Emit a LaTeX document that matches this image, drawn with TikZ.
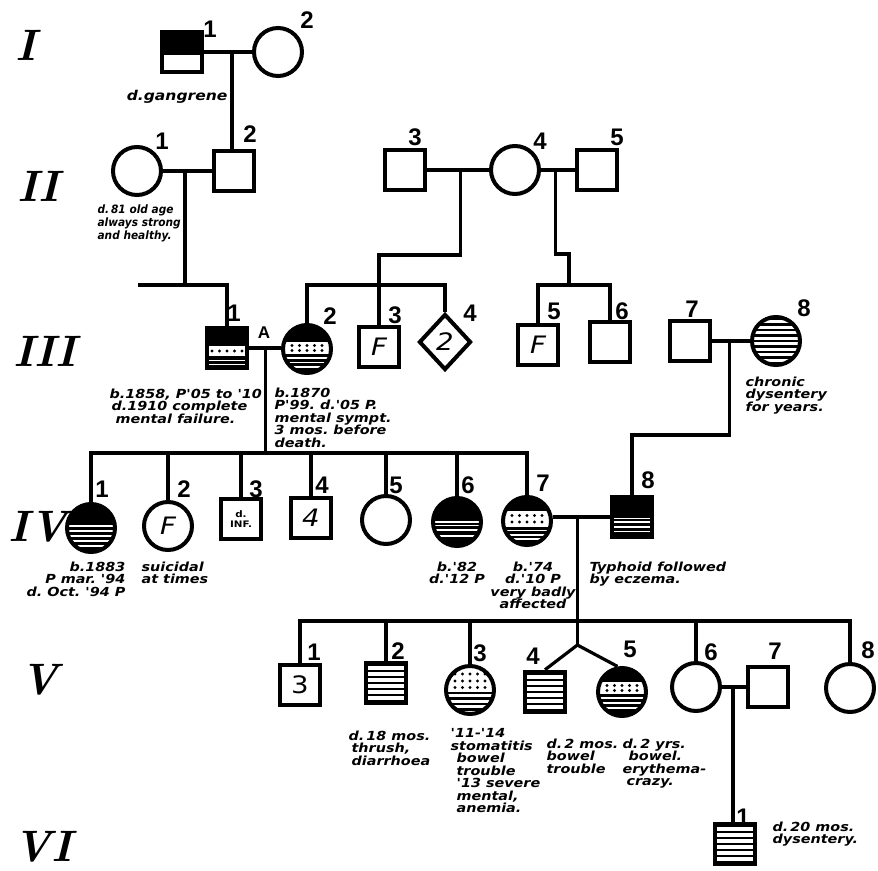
\documentclass[tikz,border=0pt]{standalone}
\usepackage{fontspec}
\usetikzlibrary{calc,shapes.geometric}
\newfontfamily\handfont[FakeStretch=1.15]{DejaVu Sans}
\newfontfamily\handnarrow[FakeStretch=0.92]{DejaVu Sans}
\newfontfamily\digitfont{Liberation Sans}
\newcommand\pb{path picture bounding box}
% fills inside the symbols, offsets from the centre (up is positive)
\newcommand\slab[3][black]{\fill[#1] ([xshift=-40pt,yshift=#2]\pb.center) rectangle ([xshift=40pt,yshift=#3]\pb.center);}
\newcommand\wlines[1]{\foreach \sy in {#1} {\slab[white]{\sy pt-0.9pt}{\sy pt+0.9pt}}}
\newcommand\stripes[1]{\foreach \sy in {#1} {\slab{\sy pt-1.3pt}{\sy pt+1.3pt}}}
\newcommand\dotrow[1]{\foreach \dx in {-15,-7.5,...,15} {\fill ([xshift=\dx pt,yshift=#1]\pb.center) circle (1.7pt);}}
\begin{document}
\begin{tikzpicture}[x=1pt,y=-1pt,line width=3.2pt,
  male/.style={draw,line width=4pt,minimum size=40.5pt,inner sep=0pt},
  female/.style={circle,draw,line width=4pt,minimum size=48pt,inner sep=0pt},
  unsexed/.style={diamond,draw,line width=4pt,minimum width=52pt,minimum height=56pt,inner sep=0pt},
  num/.style={font=\digitfont\bfseries\fontsize{24}{24}\selectfont,inner sep=0pt},
  gen/.style={font=\bfseries\itshape\fontsize{44}{44}\selectfont,inner sep=0pt},
  note/.style={font=\handfont\bfseries\itshape\fontsize{12.5}{12.5}\selectfont\frenchspacing,inner sep=0pt,align=left},
  letter/.style={font=\handfont\itshape\fontsize{24}{24}\selectfont}]
\useasboundingbox (0,0) rectangle (878,870);

% generations
\node[gen] (g1) at (26,45) {I};
\node[gen] (g2) at (38,186) {II};
\node[gen] (g3) at (45,351) {III};
\node[gen] (g4) at (38,527) {IV};
\node[gen] (g5) at (40,680) {V};
\node[gen] (g6) at (43,847) {VI};

% I
\node[male,path picture={\slab{-3pt}{30pt}}] (i1) at (182,52) {};
\node[female] (i2) at (278,52) {};
\node[num] (n-i1) at (210,29) {1};
\node[num] (n-i2) at (307,20) {2};
\node[note,anchor=east,font=\handfont\bfseries\itshape\fontsize{13.5}{13.5}\selectfont] (t-i1) at (229,97) {d.gangrene};

% II
\node[female] (ii1) at (137,171) {};
\node[male] (ii2) at (234,171) {};
\node[male] (ii3) at (405,170) {};
\node[female] (ii4) at (515,170) {};
\node[male] (ii5) at (597,170) {};
\node[num] (n-ii1) at (162,141) {1};
\node[num] (n-ii2) at (250,134) {2};
\node[num] (n-ii3) at (415,137) {3};
\node[num] (n-ii4) at (540,141) {4};
\node[num] (n-ii5) at (617,137) {5};
\node[note,anchor=north west,font=\handnarrow\bfseries\itshape\fontsize{11.5}{13}\selectfont\frenchspacing] (t-ii1) at (96,203) {d.\,81 old age\\always strong\\and healthy.};

% III
\node[male,path picture={\slab{-30pt}{30pt}\slab[white]{-8pt}{2pt}\dotrow{-3pt}\wlines{-12.5,-16.5}}] (iii1) at (227,348) {};
\node[female,path picture={\slab{-30pt}{30pt}\slab[white]{-5pt}{7pt}\dotrow{3.5pt}\dotrow{-1.5pt}\wlines{-9,-13.5,-18}}] (iii2) at (307,349) {};
\node[male,letter] (iii3) at (379,347) {F};
\node[unsexed,letter] (iii4) at (445,342) {2};
\node[male,letter] (iii5) at (538,345) {F};
\node[male] (iii6) at (610,342) {};
\node[male] (iii7) at (690,341) {};
\node[female,path picture={\stripes{-22,-16.5,...,22}}] (iii8) at (776,341) {};
\node[num] (n-iii1) at (234,313) {1};
\node[font=\digitfont\bfseries\fontsize{17}{17}\selectfont,inner sep=0pt] (a-iii1) at (264,333) {A};
\node[num] (n-iii2) at (330,316) {2};
\node[num] (n-iii3) at (395,315) {3};
\node[num] (n-iii4) at (470,313) {4};
\node[num] (n-iii5) at (554,311) {5};
\node[num] (n-iii6) at (622,311) {6};
\node[num] (n-iii7) at (692,309) {7};
\node[num] (n-iii8) at (804,308) {8};
\node[note,anchor=north west] (t-iii1) at (108,387) {b.1858, P'05 to '10\\\hspace*{2pt}d.1910 complete\\\hspace*{6pt}mental failure.};
\node[note,anchor=north west] (t-iii2) at (273,386) {b.1870\\P'99. d.'05 P.\\mental sympt.\\3 mos. before\\death.};
\node[note,anchor=north west] (t-iii8) at (744,375) {chronic\\dysentery\\for years.};

% IV
\node[female,path picture={\slab{-30pt}{30pt}\wlines{2,-3,-8,-13,-18}}] (iv1) at (91,528) {};
\node[female,letter] (iv2) at (168,526) {F};
\node[male,align=center,font=\handfont\bfseries\fontsize{9}{10}\selectfont] (iv3) at (241,519) {d.\\INF.};
\node[male,letter] (iv4) at (311,518) {4};
\node[female] (iv5) at (386,520) {};
\node[female,path picture={\slab{-30pt}{30pt}\wlines{0,-3.5,-8,-14}}] (iv6) at (457,522) {};
\node[female,path picture={\slab{-30pt}{30pt}\slab[white]{-6pt}{10.5pt}\dotrow{5.5pt}\dotrow{-1pt}\wlines{-9.5,-14,-18}}] (iv7) at (527,521) {};
\node[male,path picture={\slab{-30pt}{30pt}\wlines{-1.5,-5,-10,-14.5}}] (iv8) at (632,517) {};
\node[num] (n-iv1) at (102,489) {1};
\node[num] (n-iv2) at (184,489) {2};
\node[num] (n-iv3) at (256,489) {3};
\node[num] (n-iv4) at (322,485) {4};
\node[num] (n-iv5) at (396,485) {5};
\node[num] (n-iv6) at (468,485) {6};
\node[num] (n-iv7) at (543,483) {7};
\node[num] (n-iv8) at (648,480) {8};
\node[note,anchor=north east,align=right] (t-iv1) at (127,560) {b.1883\\P mar. '94\\d. Oct. '94 P};
\node[note,anchor=north west] (t-iv2) at (140,560) {suicidal\\at times};
\node[note,anchor=north,align=center] (t-iv6) at (457,560) {b.'82\\d.'12 P};
\node[note,anchor=north,align=center] (t-iv7) at (533,560) {b.'74\\d.'10 P\\very badly\\affected};
\node[note,anchor=north west] (t-iv8) at (588,560) {Typhoid followed\\by eczema.};

% V
\node[male,font=\handfont\fontsize{24}{24}\selectfont] (v1) at (300,685) {3};
\node[male,path picture={\stripes{-18,-12,...,18}}] (v2) at (386,683) {};
\node[female,path picture={\dotrow{16pt}\dotrow{9pt}\dotrow{2.5pt}\stripes{-3,-8.5,...,-25}}] (v3) at (470,690) {};
\node[male,path picture={\stripes{-18,-12,...,18}}] (v4) at (545,692) {};
\node[female,path picture={\slab{-30pt}{30pt}\slab[white]{-2pt}{10pt}\dotrow{6.5pt}\dotrow{1.5pt}\wlines{-6,-11,-16}}] (v5) at (622,692) {};
\node[female] (v6) at (696,687) {};
\node[male] (v7) at (768,687) {};
\node[female] (v8) at (850,688) {};
\node[num] (n-v1) at (314,652) {1};
\node[num] (n-v2) at (398,651) {2};
\node[num] (n-v3) at (480,653) {3};
\node[num] (n-v4) at (533,656) {4};
\node[num] (n-v5) at (630,649) {5};
\node[num] (n-v6) at (711,652) {6};
\node[num] (n-v7) at (775,651) {7};
\node[num] (n-v8) at (868,650) {8};
\node[note,anchor=north west] (t-v2) at (347,729) {d.\,18 mos.\\\hspace*{3pt}thrush,\\\hspace*{3pt}diarrhoea};
\node[note,anchor=north west] (t-v3) at (449,727) {'11-'14\\stomatitis\\\hspace*{6pt}bowel\\\hspace*{6pt}trouble\\\hspace*{6pt}'13 severe\\\hspace*{6pt}mental,\\\hspace*{6pt}anemia.};
\node[note,anchor=north west] (t-v4) at (545,737) {d.\,2 mos.\\bowel\\trouble};
\node[note,anchor=north west] (t-v5) at (621,737) {d.\,2 yrs.\\\hspace*{6pt}bowel.\\erythema-\\\hspace*{4pt}crazy.};

% VI
\node[male,path picture={\stripes{-18,-12,...,18}}] (vi1) at (735,844) {};
\node[num] (n-vi1) at (743,817) {1};
\node[note,anchor=north west] (t-vi1) at (771,820) {d.\,20 mos.\\dysentery.};

% lines of descent
\draw (i1.east) -- coordinate[pos=.58] (m1) (i2.west);
\draw (m1) -- (m1 |- ii2.north);
\draw (ii1.east) -- coordinate[pos=.45] (m2) (ii2.west);
\coordinate (s3) at (138,285);
\draw (m2) -- (m2 |- s3);
\draw (s3) -| (iii1.north);
\draw (ii3.east) -- coordinate[pos=.54] (m3) (ii4.west);
\coordinate (j3) at (379,255);
\coordinate (y3) at (0,285);
\draw (m3) |- (j3) -- (iii3.north);
\draw (iii2.north) |- (iii4.north |- y3) -- (iii4.north);
\draw (ii4.east) -- coordinate[pos=.44] (m4) (ii5.west);
\coordinate (j4) at (569,254);
\draw (m4) |- (j4) -- (j4 |- y3);
\draw (iii5.north) |- (iii6.north |- y3) -- (iii6.north);

\draw (iii1.east) -- coordinate[pos=.5] (m5) (iii1.east -| iii2.west);
\coordinate (y4) at (0,453);
\draw (m5) -- (m5 |- y4);
\draw (iv1.north) |- (iv7.north |- y4) -- (iv7.north);
\foreach \n in {iv2,iv3,iv4,iv5,iv6} \draw (\n.north) -- (\n.north |- y4);
\draw (iii7.east) -- coordinate[pos=.46] (m6) (iii8.west);
\coordinate (j6) at (632,435);
\draw (m6) |- (j6) -- (iv8.north);

\draw (iv8.west) -- coordinate[pos=.57] (m7) (iv8.west -| iv7.east);
\coordinate (y5) at (0,621);
\coordinate (y5t) at (0,645);
\draw (m7) -- (m7 |- y5t) coordinate (tw);
\draw (v1.north) |- (v8.north |- y5) -- (v8.north);
\foreach \n in {v2,v3,v6} \draw (\n.north) -- (\n.north |- y5);
\draw (tw) -- (v4.north);
\draw (tw) -- (v5.100);
\draw (v6.east) -- coordinate[pos=.46] (m8) (v7.west);
\draw (m8) -- (m8 |- vi1.north);
\end{tikzpicture}
\end{document}
